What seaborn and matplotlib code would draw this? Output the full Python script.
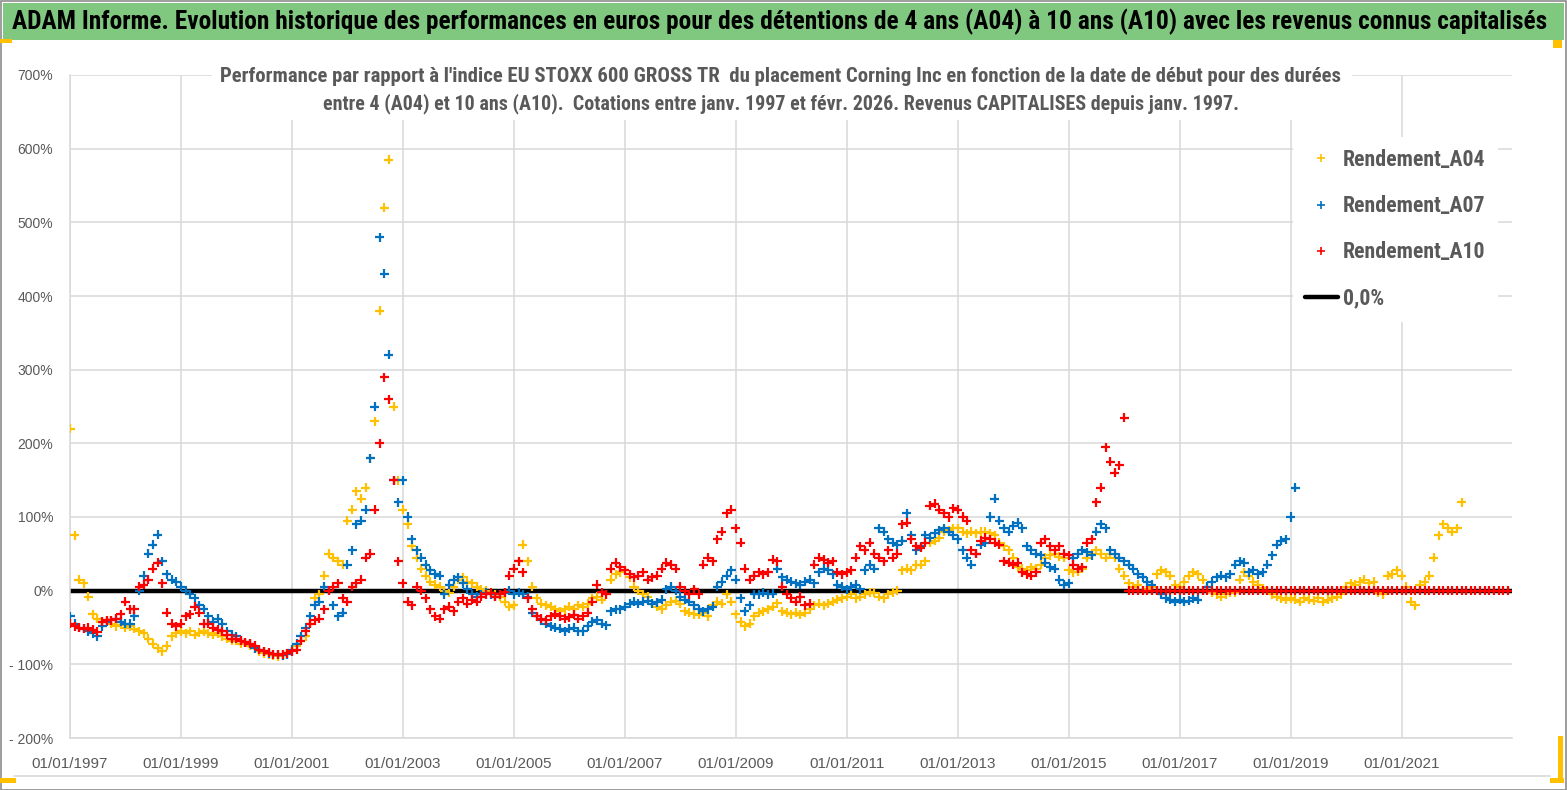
import pandas as pd
import numpy as np
import matplotlib.pyplot as plt
import seaborn as sns
from matplotlib.patches import Rectangle
from matplotlib.lines import Line2D

# monthly readings (percent), first value = Jan 1997
a04 = [
    # 1997
    220, 75, 15, 10, -8, -32, -38, -42, -40, -45, -48, -46,
    # 1998
    -50, -48, -52, -55, -58, -65, -72, -78, -82, -75, -62, -58,
    # 1999
    -55, -58, -55, -60, -57, -55, -58, -60, -58, -62, -65, -68,
    # 2000
    -68, -72, -70, -75, -78, -82, -85, -86, -88, -89, -88, -85,
    # 2001
    -80, -75, -68, -62, -45, -10, -5, 20, 50, 45, 40, 35,
    # 2002
    95, 110, 135, 125, 140, 180, 230, 380, 520, 585, 250, 150,
    # 2003
    110, 90, 60, 45, 30, 20, 12, 8, 5, 0, -3, 5,
    # 2004
    15, 18, 12, 10, 5, 2, 0, -3, -5, -8, -15, -22,
    # 2005
    -20, 40, 62, 40, 5, -10, -18, -20, -22, -25, -28, -25,
    # 2006
    -22, -25, -20, -22, -18, -10, -8, -12, -5, 15, 22, 25,
    # 2007
    28, 18, 5, 0, -5, -8, -18, -22, -25, -20, -15, -14,
    # 2008
    -18, -28, -30, -32, -33, -30, -35, -20, -15, -18, -5, -15,
    # 2009
    -32, -42, -48, -45, -35, -30, -28, -25, -22, -17, -28, -30,
    # 2010
    -32, -30, -33, -30, -25, -20, -18, -20, -18, -15, -12, -10,
    # 2011
    -8, -5, -10, -8, -5, -2, -3, -8, -10, -5, -2, 0,
    # 2012
    28, 30, 28, 35, 35, 40, 65, 68, 72, 80, 82, 85,
    # 2013
    85, 80, 78, 80, 78, 80, 80, 78, 75, 65, 60, 55,
    # 2014
    45, 32, 30, 28, 32, 30, 35, 45, 48, 50, 46, 45,
    # 2015
    28, 25, 26, 30, 45, 50, 55, 50, 45, 50, 45, 30,
    # 2016
    20, 10, 5, 8, 0, 2, 5, 22, 28, 25, 20, 8,
    # 2017
    5, 12, 20, 25, 22, 15, 5, -2, -5, -8, -5, -3,
    # 2018
    -2, 15, 25, 20, 12, 8, 3, 0, -5, -8, -10, -12,
    # 2019
    -10, -12, -15, -10, -12, -14, -10, -15, -12, -10, -8, -5,
    # 2020
    5, 10, 8, 12, 15, 10, 12, -3, -5, 20, 22, 28,
    # 2021
    20, 5, -15, -20, 8, 12, 20, 45, 75, 90, 85, 80,
    # 2022
    85, 120,
]

a07 = [
    # 1997
    -35, -45, -50, -52, -55, -58, -62, -48, -42, -40, -38, -42,
    # 1998
    -45, -45, -35, 0, 20, 50, 62, 76, 40, 22, 15, 12,
    # 1999
    5, 0, -5, -10, -20, -25, -35, -42, -38, -45, -55, -60,
    # 2000
    -62, -68, -70, -72, -78, -80, -82, -85, -86, -87, -88, -86,
    # 2001
    -80, -72, -62, -50, -35, -20, -15, 5, 0, -20, -35, -30,
    # 2002
    35, 55, 90, 95, 110, 180, 250, 480, 430, 320, 150, 120,
    # 2003
    150, 100, 70, 55, 45, 35, 28, 22, 20, -5, 8, 15,
    # 2004
    18, 10, 2, -5, -8, -5, -3, -5, -8, -5, -3, 0,
    # 2005
    -5, -3, -5, -8, -30, -35, -40, -45, -48, -50, -52, -55,
    # 2006
    -52, -50, -55, -55, -48, -42, -40, -45, -47, -28, -25, -25,
    # 2007
    -22, -18, -15, -18, -15, -14, -18, -16, -12, 2, 5, 0,
    # 2008
    -8, -12, -15, -20, -25, -28, -25, -22, 5, 12, 20, 28,
    # 2009
    15, -10, -28, -20, -5, -5, -3, -5, -4, 30, 18, 15,
    # 2010
    12, 10, 8, 12, 15, 10, 25, 30, 28, 22, 8, 5,
    # 2011
    2, 5, 8, 2, 28, 35, 30, 85, 80, 70, 65, 62,
    # 2012
    68, 105, 75, 55, 60, 75, 72, 78, 82, 85, 80, 75,
    # 2013
    70, 55, 45, 35, 50, 62, 65, 100, 125, 95, 85, 80,
    # 2014
    88, 92, 85, 60, 55, 50, 48, 38, 32, 30, 15, 8,
    # 2015
    10, 45, 50, 55, 52, 48, 80, 90, 85, 55, 50, 45,
    # 2016
    40, 35, 30, 22, 18, 12, 8, 0, -5, -10, -12, -15,
    # 2017
    -12, -15, -14, -10, -12, 0, 5, 12, 18, 20, 18, 22,
    # 2018
    35, 40, 38, 25, 28, 22, 25, 35, 48, 62, 68, 70,
    # 2019
    100, 140,
]

a10 = [
    # 1997
    -45, -48, -50, -52, -50, -53, -56, -42, -40, -40, -38, -32,
    # 1998
    -15, -25, -25, 5, 8, 15, 30, 38, 10, -30, -45, -48,
    # 1999
    -45, -35, -32, -22, -30, -45, -45, -50, -53, -55, -60, -65,
    # 2000
    -65, -68, -70, -72, -75, -80, -82, -84, -86, -87, -86, -85,
    # 2001
    -82, -80, -68, -55, -45, -40, -38, -25, 0, 5, 10, -10,
    # 2002
    -15, 5, 10, 15, 45, 50, 110, 200, 290, 260, 150, 40,
    # 2003
    10, -15, -20, 5, 0, -10, -25, -35, -38, -25, -22, -28,
    # 2004
    -15, -10, -18, -12, -15, -8, -5, -3, -8, -5, -2, 20,
    # 2005
    30, 40, 25, -10, -25, -35, -38, -40, -35, -32, -35, -38,
    # 2006
    -36, -33, -38, -35, -30, -15, 8, -2, -5, 30, 38, 32,
    # 2007
    28, 22, 18, 20, 25, 15, 18, 20, 30, 38, 35, 30,
    # 2008
    5, 0, -5, 2, -5, 35, 45, 40, 70, 80, 105, 110,
    # 2009
    85, 65, 30, 15, 20, 25, 22, 25, 42, 40, 5, -5,
    # 2010
    -10, -15, -8, -20, -18, 35, 45, 42, 38, 40, 25, 22,
    # 2011
    25, 28, 45, 60, 55, 65, 50, 45, 40, 55, 45, 50,
    # 2012
    90, 92, 70, 60, 58, 65, 115, 118, 110, 105, 100, 112,
    # 2013
    110, 100, 95, 55, 50, 68, 72, 70, 65, 62, 40, 38,
    # 2014
    35, 38, 25, 22, 20, 25, 65, 70, 60, 55, 60, 50,
    # 2015
    48, 35, 30, 32, 65, 70, 120, 140, 195, 175, 160, 170,
    # 2016
    235,
]
# A10 is reported as 0 from Feb 2016 to Dec 2022
a10_zero_tail = [0] * 83

series_names = ["Rendement_A04", "Rendement_A07", "Rendement_A10"]
series_colors = ["#FFC000", "#0070C0", "#FF0000"]
zero_label = "0,0%"

tick_years = [1997, 1999, 2001, 2003, 2005, 2007, 2009, 2011, 2013, 2015, 2017, 2019, 2021]
y_ticks = [-200, -100, 0, 100, 200, 300, 400, 500, 600, 700]
y_tick_labels = ["- 200%", "- 100%", "0%", "100%", "200%", "300%", "400%", "500%", "600%", "700%"]

header = ("ADAM Informe. Evolution historique des performances en euros pour des détentions "
          "de 4 ans (A04) à 10 ans (A10) avec les revenus connus capitalisés")
subtitle_1 = ("Performance par rapport à l'indice EU STOXX 600 GROSS TR  du placement Corning Inc "
              "en fonction de la date de début pour des durées")
subtitle_2 = ("entre 4 (A04) et 10 ans (A10).  Cotations entre janv. 1997 et févr. 2026. "
              "Revenus CAPITALISES depuis janv. 1997.")

# long table
frames = []
for name, vals in zip(series_names, [a04, a07, a10 + a10_zero_tail]):
    frames.append(pd.DataFrame({
        "date": pd.date_range("1997-01-01", periods=len(vals), freq="MS"),
        "value": vals,
        "serie": name,
    }))
df = pd.concat(frames, ignore_index=True)

sns.set_style("white")
narrow = ["Roboto Condensed", "Liberation Sans Narrow", "Roboto", "DejaVu Sans"]
plt.rcParams["font.family"] = ["Liberation Sans", "DejaVu Sans"]

W, H = 1567, 790
fig = plt.figure(figsize=(W / 100, H / 100), dpi=100)
ax = fig.add_axes([70 / W, 1 - 738 / H, (1512 - 70) / W, (738 - 75) / H])


def fit_width(txt, target_px):
    # shrink/grow a text so that it spans target_px
    r = fig.canvas.get_renderer()
    w = txt.get_window_extent(renderer=r).width
    txt.set_fontsize(txt.get_fontsize() * target_px / w)


# frame, header band and small corner marks
fig.patches.append(Rectangle((0.5 / W, 0.5 / H), 1 - 1.5 / W, 1 - 1.5 / H, transform=fig.transFigure,
                             fill=False, edgecolor="#8c8c8c", linewidth=1.2))
fig.patches.append(Rectangle((3 / W, 1 - 40 / H), (1564 - 3) / W, 37 / H, transform=fig.transFigure,
                             facecolor="#80C880", edgecolor="none"))
for x0, y0, w, h in [(0, 39, 12, 4), (1553, 40, 9, 8), (0, 778, 16, 5), (1550, 778, 14, 5), (1558, 736, 5, 46)]:
    fig.patches.append(Rectangle((x0 / W, 1 - (y0 + h) / H), w / W, h / H, transform=fig.transFigure,
                                 facecolor="#FFC000", edgecolor="none"))
fig.add_artist(Line2D([14 / W, 1550 / W], [1 - 776 / H] * 2, transform=fig.transFigure,
                      color="#d9d9d9", linewidth=1.2))

t_head = fig.text(780 / W, 1 - 22 / H, header, ha="center", va="center", fontsize=18,
                  fontweight="bold", color="black", family=narrow)

ax.axhline(0, color="black", linewidth=3.2, zorder=2)
sns.scatterplot(data=df, x="date", y="value", hue="serie", palette=series_colors,
                marker="+", s=42, linewidth=1.6, legend=False, ax=ax, zorder=3)

ax.set_xlim(pd.Timestamp("1997-01-01"), pd.Timestamp("2022-12-28"))
ax.set_ylim(-200, 700)
ax.set_yticks(y_ticks)
ax.set_yticklabels(y_tick_labels)
xt = [pd.Timestamp(f"{y}-01-01") for y in tick_years]
ax.set_xticks(xt)
ax.set_xticklabels([f"01/01/{y}" for y in tick_years])
ax.tick_params(axis="both", length=0, colors="#595959")
ax.tick_params(axis="y", labelsize=10, pad=12)
ax.tick_params(axis="x", labelsize=11, pad=14)
ax.set_xlabel("")
ax.set_ylabel("")
ax.grid(True, color="#d9d9d9", linewidth=1.1)
ax.set_axisbelow(True)
for side in ["top", "right"]:
    ax.spines[side].set_visible(False)
for side in ["left", "bottom"]:
    ax.spines[side].set_color("#d9d9d9")
    ax.spines[side].set_linewidth(1.1)

# white box behind the two subtitle lines (hides grid like the original)
fig.patches.append(Rectangle((212 / W, 1 - 120 / H), (1352 - 212) / W, (120 - 63) / H,
                             transform=fig.transFigure, facecolor="white", edgecolor="none", zorder=5))
t_sub1 = fig.text(781 / W, 1 - 77 / H, subtitle_1, ha="center", va="center", fontsize=14,
                  fontweight="bold", color="#595959", family=narrow, zorder=6)
t_sub2 = fig.text(781 / W, 1 - 104 / H, subtitle_2, ha="center", va="center", fontsize=14,
                  fontweight="bold", color="#595959", family=narrow, zorder=6)

handles = [Line2D([], [], marker="+", color=c, linestyle="none", markersize=6, markeredgewidth=1.2)
           for c in series_colors]
handles.append(Line2D([], [], color="black", linewidth=3.2))

fig.canvas.draw()
fit_width(t_head, 1535)
fit_width(t_sub1, 1127)
fit_width(t_sub2, 917)

# legend font sized so "Rendement_A04" spans about 142 px
probe = fig.text(0, 0, series_names[0], fontsize=16, fontweight="bold", family=narrow)
fig.canvas.draw()
leg_size = 16 * 142 / probe.get_window_extent(renderer=fig.canvas.get_renderer()).width
probe.remove()

leg = ax.legend(handles, series_names + [zero_label], loc="upper left",
                bbox_to_anchor=(1293 / W, 1 - 137 / H), bbox_transform=fig.transFigure,
                frameon=True, fancybox=False, framealpha=1, facecolor="white", edgecolor="none",
                labelspacing=46 / (leg_size * 1.389) - 1, handlelength=1.5, handletextpad=0.25,
                borderpad=0.55, borderaxespad=0,
                prop={"family": narrow, "size": leg_size, "weight": "bold"})
leg.get_frame().set_boxstyle("square", pad=0)
for t in leg.get_texts():
    t.set_color("#595959")

fig.savefig("out.png", dpi=100)
